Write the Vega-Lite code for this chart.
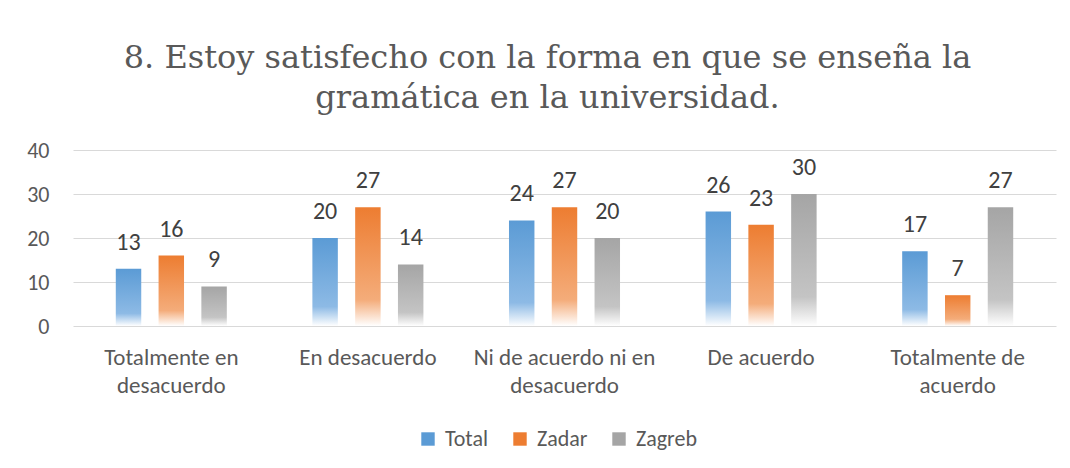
{
  "$schema": "https://vega.github.io/schema/vega-lite/v6.json",
  "width": 983,
  "height": 176,
  "autosize": {"type": "none"},
  "padding": {"left": 73, "top": 150, "right": 14, "bottom": 142},
  "background": "white",
  "config": {
    "view": {"stroke": null},
    "axis": {"labelFont": "Carlito, Lato, sans-serif"},
    "legend": {"labelFont": "Carlito, Lato, sans-serif"},
    "text": {"font": "Carlito, Lato, sans-serif"},
    "title": {"font": "DejaVu Serif", "fontSize": 32, "fontWeight": "normal", "color": "#595959"}
  },
  "title": {
    "text": ["8. Estoy satisfecho con la forma en que se enseña la", "gramática en la universidad."],
    "font": "DejaVu Serif",
    "fontSize": 32,
    "fontWeight": "normal",
    "color": "#595959",
    "anchor": "middle",
    "dx": -17,
    "lineHeight": 40,
    "offset": 24
  },
  "data": {
    "values": [
      {"categoria": "Totalmente en desacuerdo", "serie": "Total", "valor": 13},
      {"categoria": "Totalmente en desacuerdo", "serie": "Zadar", "valor": 16},
      {"categoria": "Totalmente en desacuerdo", "serie": "Zagreb", "valor": 9},
      {"categoria": "En desacuerdo", "serie": "Total", "valor": 20},
      {"categoria": "En desacuerdo", "serie": "Zadar", "valor": 27},
      {"categoria": "En desacuerdo", "serie": "Zagreb", "valor": 14},
      {"categoria": "Ni de acuerdo ni en desacuerdo", "serie": "Total", "valor": 24},
      {"categoria": "Ni de acuerdo ni en desacuerdo", "serie": "Zadar", "valor": 27},
      {"categoria": "Ni de acuerdo ni en desacuerdo", "serie": "Zagreb", "valor": 20},
      {"categoria": "De acuerdo", "serie": "Total", "valor": 26},
      {"categoria": "De acuerdo", "serie": "Zadar", "valor": 23},
      {"categoria": "De acuerdo", "serie": "Zagreb", "valor": 30},
      {"categoria": "Totalmente de acuerdo", "serie": "Total", "valor": 17},
      {"categoria": "Totalmente de acuerdo", "serie": "Zadar", "valor": 7},
      {"categoria": "Totalmente de acuerdo", "serie": "Zagreb", "valor": 27}
    ]
  },
  "encoding": {
    "x": {
      "field": "categoria",
      "type": "nominal",
      "sort": null,
      "scale": {"paddingInner": 0, "paddingOuter": 0},
      "axis": {
        "title": null,
        "labelAngle": 0,
        "ticks": false,
        "domain": false,
        "labelFontSize": 23,
        "labelColor": "#595959",
        "labelPadding": 20,
        "labelLineHeight": 28,
        "labelLimit": 300,
        "labelExpr": "datum.label == 'Totalmente en desacuerdo' ? ['Totalmente en', 'desacuerdo'] : datum.label == 'Ni de acuerdo ni en desacuerdo' ? ['Ni de acuerdo ni en', 'desacuerdo'] : datum.label == 'Totalmente de acuerdo' ? ['Totalmente de', 'acuerdo'] : datum.label"
      }
    },
    "xOffset": {
      "field": "serie",
      "type": "nominal",
      "scale": {"paddingInner": 0.405, "paddingOuter": 1.043}
    },
    "y": {
      "field": "valor",
      "type": "quantitative",
      "scale": {"domain": [0, 40]},
      "axis": {
        "title": null,
        "values": [0, 10, 20, 30, 40],
        "ticks": false,
        "domain": false,
        "labelFontSize": 22,
        "labelColor": "#595959",
        "labelPadding": 24,
        "gridColor": "#D9D9D9",
        "gridWidth": 1.2
      }
    }
  },
  "layer": [
    {
      "mark": {"type": "bar"},
      "encoding": {
        "fill": {
          "condition": [
            {"test": "datum.serie === 'Total'", "value": {"gradient": "linear", "x1": 0, "y1": 0, "x2": 0, "y2": 1, "stops": [{"offset": 0, "color": "#5B9BD5"}, {"offset": 0.78, "color": "#8DBAE5"}, {"offset": 1, "color": "#FFFFFF"}]}},
            {"test": "datum.serie === 'Zadar'", "value": {"gradient": "linear", "x1": 0, "y1": 0, "x2": 0, "y2": 1, "stops": [{"offset": 0, "color": "#ED7D31"}, {"offset": 0.78, "color": "#F4AC7A"}, {"offset": 1, "color": "#FFFFFF"}]}}
          ],
          "value": {"gradient": "linear", "x1": 0, "y1": 0, "x2": 0, "y2": 1, "stops": [{"offset": 0, "color": "#A5A5A5"}, {"offset": 0.78, "color": "#C4C4C4"}, {"offset": 1, "color": "#FFFFFF"}]}
        }
      }
    },
    {
      "mark": {"type": "bar", "opacity": 0},
      "encoding": {
        "color": {
          "field": "serie",
          "type": "nominal",
          "scale": {"domain": ["Total", "Zadar", "Zagreb"], "range": ["#5B9BD5", "#ED7D31", "#A5A5A5"]},
          "legend": {
            "title": null,
            "orient": "none",
            "legendX": 344,
            "legendY": 278,
            "direction": "horizontal",
            "symbolType": "square",
            "symbolSize": 180,
            "symbolOpacity": 1,
            "symbolStrokeWidth": 0,
            "labelFontSize": 22,
            "labelColor": "#595959",
            "labelOffset": 6,
            "columnPadding": 20,
            "encode": {
              "symbols": {
                "update": {
                  "fill": [
                    {"test": "datum.value === 'Total'", "value": {"gradient": "linear", "x1": 0, "y1": 0, "x2": 0, "y2": 1, "stops": [{"offset": 0, "color": "#5B9BD5"}, {"offset": 0.6, "color": "#8DBAE5"}, {"offset": 1, "color": "#FFFFFF"}]}},
                    {"test": "datum.value === 'Zadar'", "value": {"gradient": "linear", "x1": 0, "y1": 0, "x2": 0, "y2": 1, "stops": [{"offset": 0, "color": "#ED7D31"}, {"offset": 0.6, "color": "#F4AC7A"}, {"offset": 1, "color": "#FFFFFF"}]}},
                    {"value": {"gradient": "linear", "x1": 0, "y1": 0, "x2": 0, "y2": 1, "stops": [{"offset": 0, "color": "#A5A5A5"}, {"offset": 0.6, "color": "#C4C4C4"}, {"offset": 1, "color": "#FFFFFF"}]}}
                  ],
                  "opacity": {"value": 1},
                  "fillOpacity": {"value": 1}
                }
              }
            }
          }
        }
      }
    },
    {
      "mark": {"type": "text", "baseline": "alphabetic", "dy": -19, "fontSize": 24, "color": "#404040", "font": "Carlito, Lato, sans-serif"},
      "encoding": {
        "text": {"field": "valor", "type": "quantitative"}
      }
    }
  ]
}
